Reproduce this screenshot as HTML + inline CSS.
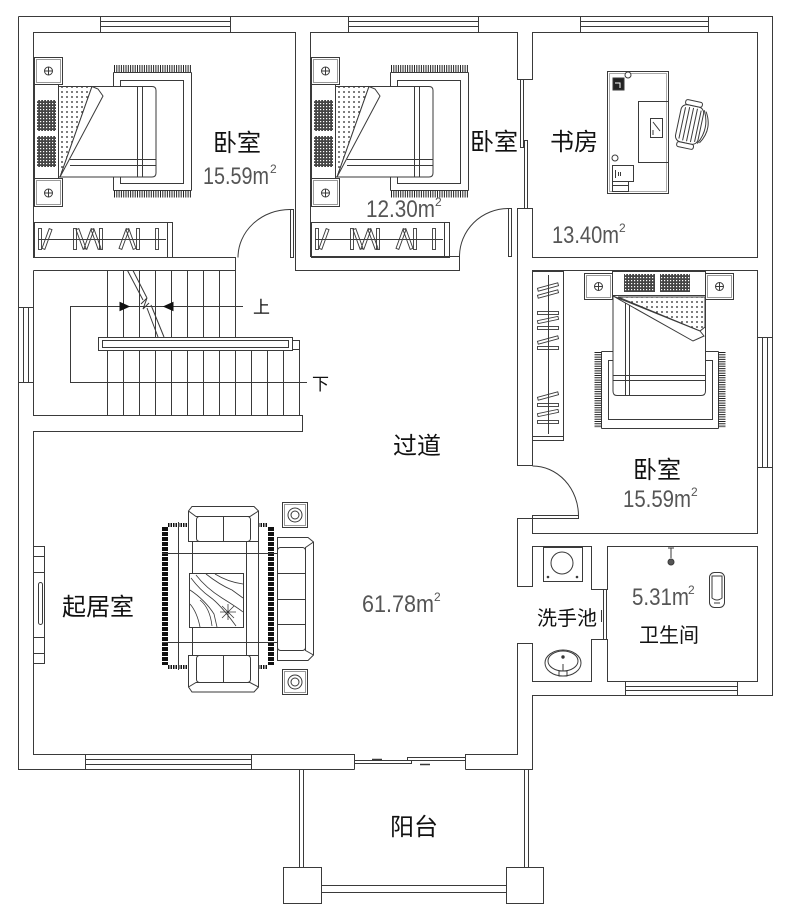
<!DOCTYPE html>
<html><head><meta charset="utf-8"><style>
html,body{margin:0;padding:0;background:#fff;}
svg{display:block;}
text{font-family:"Liberation Sans","Noto Sans CJK SC",sans-serif;}
</style></head><body>
<svg width="789" height="919" viewBox="0 0 789 919" xmlns="http://www.w3.org/2000/svg">
<defs>
<pattern id="dots" width="5" height="5" patternUnits="userSpaceOnUse"><rect width="5" height="5" fill="#fff"/><circle cx="2" cy="2" r="0.9" fill="#222"/></pattern>
<pattern id="mesh" width="3" height="3" patternUnits="userSpaceOnUse"><rect width="3" height="3" fill="#444"/><rect x="1" y="1" width="1.2" height="1.2" fill="#fff"/></pattern>
</defs>
<rect width="789" height="919" fill="#fff"/>
<g fill="none" stroke="#3a3a3a" stroke-width="1">
<!-- outer walls -->
<path d="M18.5 16.5H772.5V695.5H532.5V769.5H465.5M354.5 769.5H18.5V16.5"/>
<!-- inner walls -->
<path d="M295.5 209V32.5H33.5V257.5H235.5V337"/>
<path d="M33.5 270.5H235.5"/>
<path d="M33.5 270.5V415.5H302.5V431.5H33.5V754.5H354.5V769.5"/>
<path d="M295.5 209V270.5H459.5V256.5H310.5V32.5H517.5V79.5H532.5V32.5H757.5V257.5H532.5V208.5H517.5V465.5H532.5V270.5H757.5V533.5H532.5V518.5H517.5V586.5H532.5V546.5H591.5V589.5H607.5V546.5H757.5V681.5H607.5V639.5H591.5V681.5H532.5V643.5H517.5V754.5H465.5V769.5"/>
<!-- top windows -->
<path d="M100.5 16.5V32.5M230.5 16.5V32.5M100.5 21.5H230.5M100.5 26.5H230.5"/>
<path d="M348.5 16.5V32.5M478.5 16.5V32.5M348.5 21.5H478.5M348.5 26.5H478.5"/>
<path d="M580.5 16.5V32.5M708.5 16.5V32.5M580.5 21.5H708.5M580.5 26.5H708.5"/>
<!-- left window -->
<path d="M18.5 307.5H33.5M18.5 382.5H33.5M23.5 307.5V382.5M28.5 307.5V382.5"/>
<!-- right window -->
<path d="M757.5 337.5H772.5M757.5 467.5H772.5M762.5 337.5V467.5M767.5 337.5V467.5"/>
<!-- living bottom window -->
<path d="M85.5 754.5V769.5M251.5 754.5V769.5M85.5 759.5H251.5M85.5 764.5H251.5"/>
<!-- bath window -->
<path d="M625.5 681.5V695.5M737.5 681.5V695.5M625.5 686.5H737.5M625.5 690.5H737.5"/>
<!-- sliding doors -->
<rect x="354.5" y="760.5" width="57" height="3"/>
<rect x="407.5" y="757.5" width="58" height="3"/>
<path d="M372 759.5H382M420 764.5H430" stroke-width="1.5"/>
<rect x="520.5" y="79.5" width="3" height="68"/>
<rect x="524.5" y="140.5" width="3" height="68"/>
<rect x="603.5" y="589.5" width="3" height="50"/>
<path d="M601.5 610V622"/>
<!-- swing doors -->
<rect x="290.5" y="209.5" width="3" height="48"/>
<path d="M290 209.5A52 48 0 0 0 238 257.5"/>
<rect x="508.5" y="208.5" width="3" height="48"/>
<path d="M508 208.5A49 48 0 0 0 459.5 256.5"/>
<rect x="532.5" y="515.5" width="46" height="3"/>
<path d="M532.5 466A46 50 0 0 1 578.5 516"/>
<!-- balcony -->
<path d="M299.5 769.5V867M303.5 769.5V867M524.5 769.5V867M528.5 769.5V867"/>
<rect x="283.5" y="867.5" width="38" height="36"/>
<rect x="506.5" y="867.5" width="37" height="36"/>
<path d="M321.5 885.5H506.5M321.5 892.5H506.5"/>

<!-- staircase -->
<path d="M107.5 270.5V415.5M123.5 270.5V337M139.5 270.5V337M155.5 270.5V337M171.5 270.5V337M187.5 270.5V337M203.5 270.5V337M219.5 270.5V337"/>
<path d="M123.5 351V415.5M139.5 351V415.5M155.5 351V415.5M171.5 351V415.5M187.5 351V415.5M203.5 351V415.5M219.5 351V415.5M235.5 351V415.5M251.5 351V415.5M267.5 351V415.5M283.5 351V415.5M299.5 349V415.5"/>
<path d="M127.5 270.5L143 300M133 270.5L147 298M141 304L147 298L143 309L149 303M147 308L158 337M151 305L164 337" />
<rect x="98.5" y="337.5" width="194" height="13" fill="#fff"/>
<rect x="102.5" y="340.5" width="186" height="7"/>
<rect x="292.5" y="340.5" width="7" height="9" fill="#fff"/>
<path d="M243 306.5H70.5V382.5H307"/>
<path d="M120 302.5L129 306.5L120 310.5Z M173 302.5L164 306.5L173 310.5Z" fill="#111" stroke="#111"/>

<!-- bedroom 1 group -->
<g id="bd">
<rect x="34.5" y="57.5" width="28" height="27"/>
<rect x="36.5" y="59.5" width="24" height="23" stroke="#999"/>
<circle cx="48.5" cy="71" r="4"/><path d="M44.5 71H52.5M48.5 67V75"/>
<rect x="34.5" y="178.5" width="28" height="28"/>
<rect x="36.5" y="180.5" width="24" height="24" stroke="#999"/>
<circle cx="48.5" cy="193" r="4"/><path d="M44.5 193H52.5M48.5 189V197"/>
<rect x="34.5" y="84.5" width="24" height="94"/>
<rect x="37" y="100" width="19" height="31" fill="url(#mesh)" stroke="none"/>
<rect x="37" y="136" width="19" height="31" fill="url(#mesh)" stroke="none"/>
<path d="M113.5 72.5V190.5M191.5 72.5V190.5M113.5 72.5H191.5M113.5 190.5H191.5"/>
<path d="M114 68.5H191M114 194H191" stroke="#222" stroke-width="7" stroke-dasharray="1 1.3"/>
<rect x="120.5" y="80.5" width="63" height="103"/>
<path d="M58.5 86.5H152Q156 86.5 156 90.5V173Q156 177 152 177H58.5Z" fill="#fff"/>
<path d="M137.5 86.5V177M142.5 86.5V177M70 159.5H156M70 165.5H156"/>
<path d="M58.5 86.5H92L60 177H58.5Z" fill="url(#dots)"/>
<path d="M92 86.5L98 89L103 96L60 177Z" fill="#fff"/>
<rect x="34.5" y="222.5" width="138" height="35"/>
<path d="M167.5 222.5V257.5M38 239.5H166"/>
<g stroke-width="0.9">
<rect x="38.5" y="228.5" width="3" height="21"/>
<rect x="-1.5" y="-10.5" width="3" height="21" transform="translate(47,239) rotate(20)"/>
<rect x="73.5" y="228.5" width="3" height="21"/>
<rect x="-1.5" y="-10.5" width="3" height="21" transform="translate(81,239) rotate(-20)"/>
<rect x="-1.5" y="-10.5" width="3" height="21" transform="translate(89,239) rotate(20)"/>
<rect x="-1.5" y="-10.5" width="3" height="21" transform="translate(96,239) rotate(-20)"/>
<rect x="99.5" y="228.5" width="3" height="21"/>
<rect x="-1.5" y="-10.5" width="3" height="21" transform="translate(124,239) rotate(20)"/>
<rect x="-1.5" y="-10.5" width="3" height="21" transform="translate(131,239) rotate(-20)"/>
<rect x="136.5" y="228.5" width="3" height="21"/>
<rect x="155.5" y="228.5" width="3" height="21"/>
</g>
</g>
<use href="#bd" transform="translate(277,0)"/>

<!-- study -->
<rect x="607.5" y="71.5" width="61" height="122"/>
<rect x="609.5" y="73.5" width="57" height="118" stroke="#aaa"/>
<rect x="638.5" y="101.5" width="30" height="61"/>
<rect x="613" y="78" width="11" height="12" fill="#222"/>
<path d="M615 83H620V88" stroke="#fff"/>
<circle cx="628" cy="75" r="3" fill="#fff"/>
<rect x="650.5" y="118.5" width="12" height="19"/>
<path d="M653 122L660 131M653 130V135"/>
<circle cx="615" cy="158" r="3"/>
<rect x="612.5" y="165.5" width="21" height="16"/>
<path d="M615.5 170V178M618.5 172V176M620.5 172V176"/>
<rect x="612.5" y="181.5" width="16" height="10"/>
<path d="M612.5 185.5H628.5"/>
<g transform="translate(692,125) rotate(12)">
<rect x="-14" y="-19" width="23" height="38" rx="6" fill="#fff"/>
<path d="M-10 -16V16M-6 -17V17M-2 -17V17M2 -17V17M6 -16V16"/>
<path d="M9 -17Q18 0 9 17M11 -16Q21 0 11 16"/>
<rect x="-11" y="-24" width="17" height="5" rx="2" fill="#fff"/>
<rect x="-11" y="19" width="17" height="5" rx="2" fill="#fff"/>
</g>

<!-- bedroom 3 -->
<rect x="584.5" y="273.5" width="28" height="26"/>
<rect x="586.5" y="275.5" width="24" height="22" stroke="#999"/>
<circle cx="598.5" cy="286.5" r="4"/><path d="M594.5 286.5H602.5M598.5 282.5V290.5"/>
<rect x="705.5" y="273.5" width="28" height="26"/>
<rect x="707.5" y="275.5" width="24" height="22" stroke="#999"/>
<circle cx="719.5" cy="286.5" r="4"/><path d="M715.5 286.5H723.5M719.5 282.5V290.5"/>
<rect x="612.5" y="271.5" width="93" height="24"/>
<rect x="624" y="274" width="31" height="18" fill="url(#mesh)" stroke="none"/>
<rect x="660" y="274" width="30" height="18" fill="url(#mesh)" stroke="none"/>
<path d="M601.5 351.5H718.5M601.5 428.5H718.5M601.5 351.5V428.5M718.5 351.5V428.5"/>
<path d="M598 352V428M722 352V428" stroke="#222" stroke-width="7" stroke-dasharray="1 1.3"/>
<rect x="608.5" y="360.5" width="104" height="59"/>
<path d="M613 295.5H705.5V391Q705.5 395.5 701 395.5H617Q613 395.5 613 391Z" fill="#fff"/>
<path d="M625.5 297V395M629.5 297V395M613 375.5H705M613 380.5H705"/>
<path d="M618 297H705V327L700 331Z" fill="url(#dots)"/>
<path d="M613 296L700 331L704 336L693 341Z" fill="#fff"/>
<rect x="532.5" y="271.5" width="31" height="169"/>
<path d="M532.5 436.5H563.5M548.5 275V434"/>
<g stroke-width="0.9">
<rect x="-10.5" y="-1.5" width="21" height="3" transform="translate(548,287) rotate(-15)"/>
<rect x="-10.5" y="-1.5" width="21" height="3" transform="translate(548,294) rotate(-15)"/>
<rect x="537.5" y="311.5" width="21" height="3"/>
<rect x="-10.5" y="-1.5" width="21" height="3" transform="translate(548,320) rotate(-12)"/>
<rect x="537.5" y="326.5" width="21" height="3"/>
<rect x="-10.5" y="-1.5" width="21" height="3" transform="translate(548,340) rotate(-15)"/>
<rect x="537.5" y="346.5" width="21" height="3"/>
<rect x="-10.5" y="-1.5" width="21" height="3" transform="translate(548,396) rotate(-15)"/>
<rect x="537.5" y="403.5" width="21" height="3"/>
<rect x="-10.5" y="-1.5" width="21" height="3" transform="translate(548,413) rotate(-12)"/>
<rect x="537.5" y="420.5" width="21" height="3"/>
</g>

<!-- bathroom / wash -->
<rect x="543.5" y="547.5" width="39" height="34"/>
<circle cx="562" cy="563" r="11"/>
<circle cx="548" cy="577" r="0.8" fill="#333"/><circle cx="577" cy="577" r="0.8" fill="#333"/>
<ellipse cx="563" cy="663" rx="18" ry="13"/>
<ellipse cx="563" cy="661" rx="15" ry="10"/>
<circle cx="563" cy="657" r="1.2" fill="#333"/>
<path d="M563 664V671M559 671H567V676H559Z"/>
<rect x="709.5" y="572.5" width="15" height="35" rx="5"/>
<path d="M712 576H722V598Q717 602 712 598Z"/>
<path d="M714 603H720"/>
<path d="M671 548V558M668 548H674"/>
<circle cx="671" cy="562" r="3" fill="#555"/>

<!-- TV unit -->
<rect x="33.5" y="546.5" width="11" height="10"/>
<rect x="33.5" y="556.5" width="11" height="16"/>
<rect x="33.5" y="572.5" width="11" height="65"/>
<rect x="38.5" y="582.5" width="4" height="42" rx="2"/>
<rect x="33.5" y="637.5" width="11" height="16"/>
<rect x="33.5" y="653.5" width="11" height="10"/>

<!-- living room furniture -->
<path d="M165 527V665M271 527V665" stroke="#111" stroke-width="6" stroke-dasharray="4 1"/>
<path d="M168 525H188M258 525H268M168 667H188M258 667H268" stroke="#111" stroke-width="4" stroke-dasharray="1.5 1"/>
<path d="M162 553.5H300M162 642.5H300M178.5 522V670M192.5 542V655M246.5 542V655M258.5 537V663"/>
<path d="M192 506.5H254L258.5 511V541.5H188.5V511Z" fill="#fff"/>
<path d="M188.5 511L196 516.5H250L258.5 511"/>
<rect x="196.5" y="516.5" width="54" height="25" rx="3" fill="#fff"/>
<path d="M223.5 516.5V541.5"/>
<path d="M188.5 655.5H258.5V687L254 692H192L188.5 687Z" fill="#fff"/>
<path d="M188.5 687L196 682.5H250L258.5 687"/>
<rect x="196.5" y="655.5" width="54" height="27" rx="3" fill="#fff"/>
<path d="M223.5 655.5V682.5"/>
<path d="M277.5 537.5H308L313.5 542V655L308 660.5H277.5Z" fill="#fff"/>
<path d="M313.5 542L305.5 547.5V650.5L313.5 655"/>
<rect x="277.5" y="547.5" width="28" height="103" rx="3" fill="#fff"/>
<path d="M277.5 573.5H305.5M277.5 599.5H305.5M277.5 624.5H305.5"/>
<rect x="282.5" y="502.5" width="25" height="25"/>
<rect x="284.5" y="504.5" width="21" height="21" stroke="#999"/>
<circle cx="295" cy="515" r="7"/><circle cx="295" cy="515" r="4"/>
<rect x="282.5" y="669.5" width="25" height="25"/>
<rect x="284.5" y="671.5" width="21" height="21" stroke="#999"/>
<circle cx="295" cy="682" r="7"/><circle cx="295" cy="682" r="4"/>
<rect x="189.5" y="573.5" width="54" height="54" fill="#fff"/>
<g stroke-width="0.8">
<path d="M191 578Q200 590 210 597T236 626"/>
<path d="M196 575Q206 588 222 598T243 612"/>
<path d="M190 590Q205 600 214 614L217 627"/>
<path d="M206 574Q220 585 232 590L243 598"/>
<path d="M200 600Q210 608 212 626"/>
<path d="M190 604Q197 612 200 627"/>
<path d="M215 574Q228 582 243 584"/>
<path d="M222 606L234 618M234 606L222 618M228 604V620M220 612H236"/>
</g>
</g>

<!-- labels -->
<g fill="#111">
<text x="213" y="151" font-size="24">卧室</text>
<text x="470" y="150" font-size="24">卧室</text>
<text x="550" y="150" font-size="24">书房</text>
<text x="633" y="478" font-size="24">卧室</text>
<text x="393" y="454" font-size="24">过道</text>
<text x="62" y="615" font-size="24">起居室</text>
<text x="537" y="625" font-size="20">洗手池</text>
<text x="639" y="642" font-size="20">卫生间</text>
<text x="390" y="835" font-size="24">阳台</text>
<text x="253" y="313" font-size="17">上</text>
<text x="312" y="390" font-size="17">下</text>
</g>
<g fill="#555">
<text x="203" y="184" font-size="24" textLength="66" lengthAdjust="spacingAndGlyphs">15.59m</text>
<text x="270" y="173" font-size="12">2</text>
<text x="366" y="217" font-size="24" textLength="69" lengthAdjust="spacingAndGlyphs">12.30m</text>
<text x="435" y="206" font-size="12">2</text>
<text x="552" y="243" font-size="24" textLength="67" lengthAdjust="spacingAndGlyphs">13.40m</text>
<text x="619" y="232" font-size="12">2</text>
<text x="623" y="507" font-size="24" textLength="68" lengthAdjust="spacingAndGlyphs">15.59m</text>
<text x="691" y="496" font-size="12">2</text>
<text x="362" y="612" font-size="24" textLength="72" lengthAdjust="spacingAndGlyphs">61.78m</text>
<text x="434" y="601" font-size="12">2</text>
<text x="632" y="605" font-size="24" textLength="57" lengthAdjust="spacingAndGlyphs">5.31m</text>
<text x="688" y="594" font-size="12">2</text>
</g>
</svg>
</body></html>
